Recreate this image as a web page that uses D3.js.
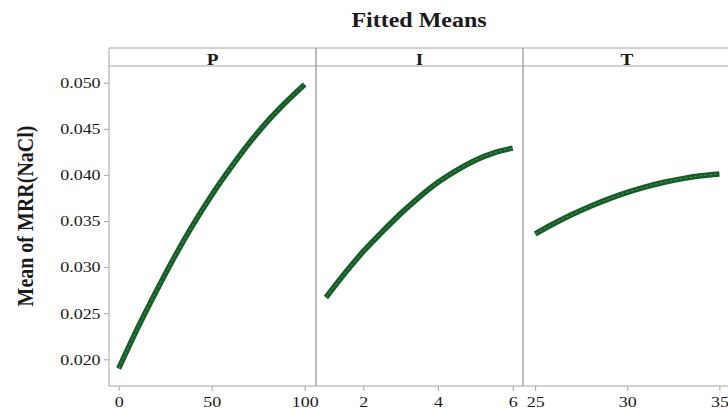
<!DOCTYPE html>
<html>
<head>
<meta charset="utf-8">
<script src="https://cdn.jsdelivr.net/npm/d3@7"></script>
<style>
  html, body { margin: 0; padding: 0; background: #fff; }
  svg { display: block; font-family: "Liberation Serif", "DejaVu Serif", serif; }
</style>
</head>
<body>
<svg id="svg_means" width="728" height="408"></svg>
<script>
// Panel names
const panels = ['P', 'I', 'T'];

// Fitted means
const pLevels = [0, 10, 20, 30, 40, 50, 60, 70, 80, 90, 100];
const pMeans = [0.0190, 0.0233, 0.0273, 0.0311, 0.0346, 0.0378, 0.0407, 0.0434, 0.0458, 0.0479, 0.0498];

const iLevels = [1, 1.5, 2, 2.5, 3, 3.5, 4, 4.5, 5, 5.5, 6];
const iMeans = [0.0267, 0.0293, 0.0317, 0.0338, 0.0358, 0.0376, 0.0392, 0.0405, 0.0416, 0.0424, 0.0429];

const tLevels = [25, 26, 27, 28, 29, 30, 31, 32, 33, 34, 35];
const tMeans = [0.0336, 0.0347, 0.0357, 0.0366, 0.0374, 0.0381, 0.0387, 0.0392, 0.0396, 0.0399, 0.0401];

// Tick labels
const pTicks = [0, 50, 100];
const iTicks = [2, 4, 6];
const tTicks = [25, 30, 35];
const yTicks = [0.020, 0.025, 0.030, 0.035, 0.040, 0.045, 0.050];

const width = 728;
const height = 408;
const topY = 48;      // top of strip
const stripH = 18;
const bottomY = 386;  // x axis line
const stretch = 1.2;  // text in the picture is a little wide

const frame = '#a6a6a6';
const ink = '#1a1a1a';

const y = d3.scaleLinear().domain([0.017104, 0.051811]).range([bottomY, topY + stripH]);

const series = [
  { name: panels[0], x: d3.scaleLinear().domain([-5.2, 106.1]).range([109, 316]), lv: pLevels, mn: pMeans, ticks: pTicks },
  { name: panels[1], x: d3.scaleLinear().domain([0.733, 6.276]).range([316, 523]), lv: iLevels, mn: iMeans, ticks: iTicks },
  { name: panels[2], x: d3.scaleLinear().domain([24.34, 35.63]).range([523, 731]), lv: tLevels, mn: tMeans, ticks: tTicks }
];

const svg = d3.select('#svg_means');

// Title
svg.append('text')
  .text('Fitted Means')
  .attr('transform', `translate(419, 27) scale(${stretch}, 1)`)
  .attr('text-anchor', 'middle')
  .attr('font-size', 20)
  .attr('font-weight', 'bold')
  .attr('fill', ink);

// Y axis label
svg.append('text')
  .text('Mean of MRR(NaCl)')
  .attr('transform', `translate(33, 216) scale(${stretch}, 1) rotate(-90)`)
  .attr('text-anchor', 'middle')
  .attr('font-size', 20)
  .attr('font-weight', 'bold')
  .attr('fill', ink);

// Y axis
const yAxis = svg.append('g')
  .attr('transform', 'translate(109, 0)')
  .call(d3.axisLeft(y).tickValues(yTicks).tickFormat(d3.format('.3f')).tickSize(5).tickSizeOuter(0).tickPadding(2));
yAxis.select('.domain').remove();
yAxis.selectAll('line').attr('stroke', frame);
yAxis.selectAll('text')
  .attr('font-size', 15)
  .attr('fill', ink)
  .attr('font-family', 'Liberation Serif')
  .attr('transform', `scale(${stretch}, 1)`);

// Each panel
series.forEach((s) => {
  const [x0, x1] = s.x.range();

  // Strip
  svg.append('text')
    .text(s.name)
    .attr('transform', `translate(${(x0 + x1) / 2}, 65) scale(${stretch}, 1)`)
    .attr('text-anchor', 'middle')
    .attr('font-size', 16)
    .attr('font-weight', 'bold')
    .attr('fill', ink);

  // X axis
  const xAxis = svg.append('g')
    .attr('transform', `translate(0, ${bottomY})`)
    .call(d3.axisBottom(s.x).tickValues(s.ticks).tickFormat(d3.format('d')).tickSize(5).tickSizeOuter(0).tickPadding(5));
  xAxis.select('.domain').remove();
  xAxis.selectAll('line').attr('stroke', frame);
  xAxis.selectAll('text')
    .attr('font-size', 15)
    .attr('fill', ink)
    .attr('font-family', 'Liberation Serif')
    .attr('transform', `scale(${stretch}, 1)`);

  // Fitted line
  const pts = s.lv.map((v, i) => [s.x(v), y(s.mn[i])]);
  const line = d3.line().curve(d3.curveMonotoneX);
  svg.append('path')
    .attr('d', line(pts))
    .attr('fill', 'none')
    .attr('stroke', '#165c27')
    .attr('stroke-width', 5.5);
  svg.append('path')
    .attr('d', line(pts))
    .attr('fill', 'none')
    .attr('stroke', '#4b8f58')
    .attr('stroke-width', 1)
    .attr('stroke-dasharray', '3,2');
});

// Frame: outer box, strip and dividers
const g = svg.append('g').attr('stroke', frame).attr('fill', 'none');
g.append('line').attr('x1', 109).attr('x2', width).attr('y1', topY).attr('y2', topY);
g.append('line').attr('x1', 109).attr('x2', width).attr('y1', topY + stripH).attr('y2', topY + stripH);
g.append('line').attr('x1', 109).attr('x2', width).attr('y1', bottomY).attr('y2', bottomY);
[109, 316, 523].forEach((xx) => {
  g.append('line').attr('x1', xx).attr('x2', xx).attr('y1', topY).attr('y2', bottomY)
    .attr('stroke-width', xx === 109 ? 1 : 1.5);
});
</script>
</body>
</html>
